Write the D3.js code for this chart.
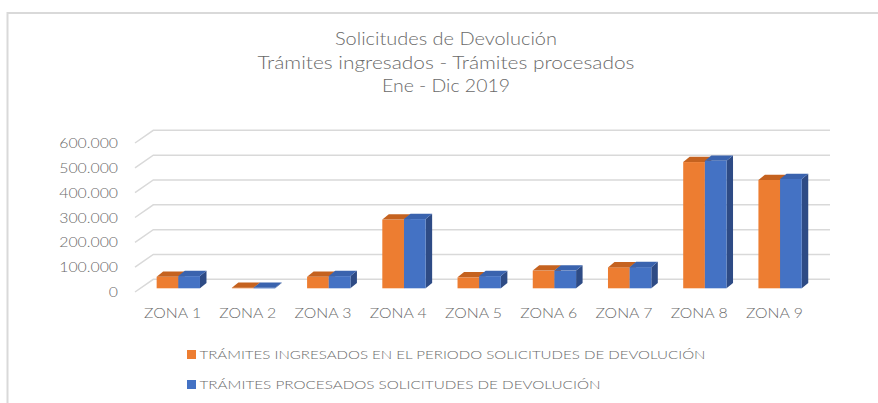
<!DOCTYPE html>
<html>
<head>
<meta charset="utf-8">
<script src="https://cdn.jsdelivr.net/npm/d3@7"></script>
<style>
  html, body { margin: 0; padding: 0; background: #fff; }
  svg { display: block; }
  text { font-family: Lato, "Open Sans", sans-serif; fill: #6a6a6a; font-weight: 300; }
</style>
</head>
<body>
<svg id="chart" width="878" height="403"></svg>
<script>
// ---------- data ----------
const zones = ["ZONA 1", "ZONA 2", "ZONA 3", "ZONA 4", "ZONA 5", "ZONA 6", "ZONA 7", "ZONA 8", "ZONA 9"];
const ingresados = [46000, 2500, 46000, 276000, 44000, 71000, 84000, 507000, 435000];
const procesados = [49000, 2000, 49000, 278000, 49000, 71000, 85000, 512000, 439000];
const seriesNames = [
  "TRÁMITES INGRESADOS EN EL PERIODO SOLICITUDES DE DEVOLUCIÓN",
  "TRÁMITES PROCESADOS SOLICITUDES DE DEVOLUCIÓN"
];
const yTicks = [0, 100000, 200000, 300000, 400000, 500000, 600000];
const titleLines = ["Solicitudes de Devolución", "Trámites ingresados - Trámites procesados", "Ene - Dic 2019"];

// ---------- styles ----------
const faces = [
  { front: "#ED7D31", top: "#C5621F", side: "#B25A1C" },
  { front: "#4472C4", top: "#3A63AE", side: "#2E4B85" }
];

const svg = d3.select("#chart");
const fmt = d3.formatLocale({ decimal: ",", thousands: ".", grouping: [3], currency: ["", ""] }).format(",d");

function stretch(sel, k) {
  sel.each(function () {
    const w = this.getComputedTextLength();
    d3.select(this).attr("textLength", w * k).attr("lengthAdjust", "spacingAndGlyphs");
  });
}
function fitWidth(sel, w) {
  sel.attr("textLength", w).attr("lengthAdjust", "spacingAndGlyphs");
}

// chart border
svg.append("path")
  .attr("d", "M7.5,403 L7.5,13 L878,13")
  .attr("fill", "none").attr("stroke", "#d9d9d9").attr("stroke-width", 2);

// ---------- title ----------
const titleWidths = [222, 377, 128];
const titleY = [45, 68.5, 91.5];
titleLines.forEach((t, i) => {
  svg.append("text")
    .attr("x", 446).attr("y", titleY[i])
    .attr("text-anchor", "middle")
    .style("font-size", "17.5px")
    .text(t)
    .call(fitWidth, titleWidths[i]);
});

// ---------- scales ----------
const depthDX = 18.3, depthDY = -12.7;
const yFront = d3.scaleLinear().domain([0, 600000]).range([292, 143]);
const yBack = d3.scaleLinear().domain([0, 600000]).range([292 + depthDY, 143 + depthDY]);
const xFront = d3.scaleBand().domain(zones).range([135, 812]);
const barShift = 5.7;
const xBars = d3.scaleBand().domain(zones).range([135 + barShift, 812 + barShift])
  .paddingInner(0.424).paddingOuter(0.212);
const xSub = d3.scaleBand().domain([0, 1]).range([0, xBars.bandwidth()]);
const yBar = d3.scaleLinear().domain([0, 600000]).range([288.3, 288.3 - 149.4]);
const bdx = 6.5, bdy = -5.3;

// ---------- gridlines ----------
const grid = svg.append("g");
yTicks.forEach(v => {
  grid.append("path")
    .attr("d", `M${135},${yFront(v)} L${135 + depthDX},${yBack(v)} L${830},${yBack(v)}`)
    .attr("fill", "none").attr("stroke", "#d9d9d9").attr("stroke-width", 1.5);
});

// y tick labels
svg.append("g").selectAll("text").data(yTicks).join("text")
  .attr("x", 118).attr("y", d => yFront(d) + 5)
  .attr("text-anchor", "end")
  .style("font-size", "14px")
  .text(d => fmt(d))
  .call(stretch, 1.13);

// ---------- bars ----------
const bars = svg.append("g");
zones.forEach((z, i) => {
  [ingresados[i], procesados[i]].forEach((v, s) => {
    const x0 = xBars(z) + xSub(s);
    const w = xSub.bandwidth();
    const y0 = yBar(0), y1 = yBar(v);
    const g = bars.append("g");
    // side
    g.append("path")
      .attr("d", `M${x0 + w},${y0} L${x0 + w + bdx},${y0 + bdy} L${x0 + w + bdx},${y1 + bdy} L${x0 + w},${y1} Z`)
      .attr("fill", faces[s].side);
    // front
    g.append("rect")
      .attr("x", x0).attr("y", y1).attr("width", w).attr("height", Math.max(0.6, y0 - y1))
      .attr("fill", faces[s].front);
    // top
    g.append("path")
      .attr("d", `M${x0},${y1} L${x0 + bdx},${y1 + bdy} L${x0 + w + bdx},${y1 + bdy} L${x0 + w},${y1} Z`)
      .attr("fill", faces[s].top);
  });
});

// x labels
svg.append("g").selectAll("text").data(zones).join("text")
  .attr("x", d => xFront(d) + xFront.bandwidth() / 2)
  .attr("y", 318)
  .attr("text-anchor", "middle")
  .style("font-size", "14px")
  .text(d => d)
  .call(stretch, 1.13);

// ---------- legend ----------
const legendY = [359, 389];
const legendW = [506, 401];
seriesNames.forEach((name, s) => {
  svg.append("rect")
    .attr("x", 187).attr("y", legendY[s] - 9).attr("width", 9).attr("height", 9)
    .attr("fill", faces[s].front);
  svg.append("text")
    .attr("x", 199.5).attr("y", legendY[s])
    .style("font-size", "12.5px")
    .text(name)
    .call(fitWidth, legendW[s]);
});
</script>
</body>
</html>
